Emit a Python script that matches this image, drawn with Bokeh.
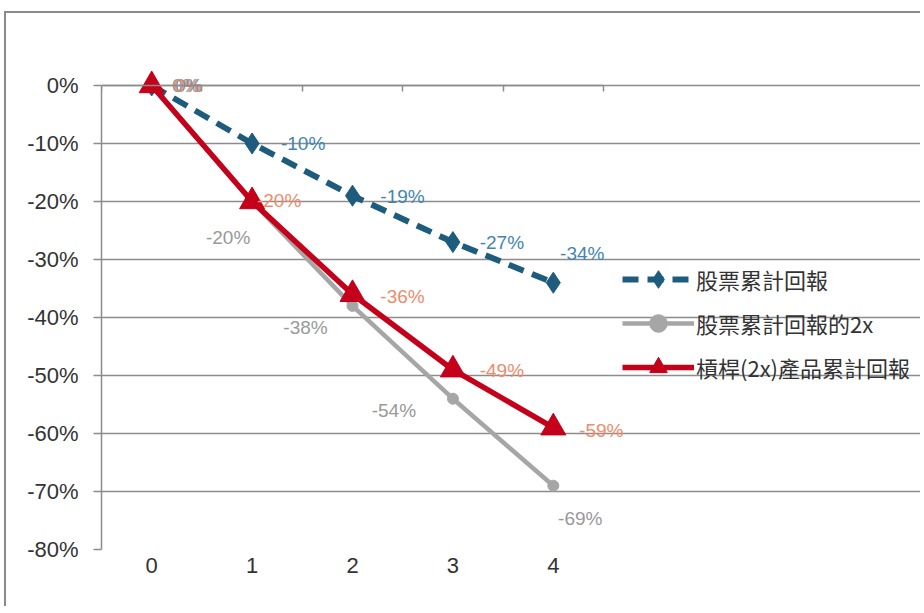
from bokeh.plotting import figure
from bokeh.models import (ColumnDataSource, Range1d, FixedTicker, LinearAxis,
                          Legend, LegendItem, Grid)
from bokeh.core.properties import value
from bokeh.embed import file_html
from bokeh.resources import INLINE

# ---- data ----
periods = [0, 1, 2, 3, 4]
period_labels = ["0", "1", "2", "3", "4"]
stock_cum = [0.0, -0.10, -0.19, -0.27, -0.34]
stock_2x = [0.0, -0.20, -0.38, -0.54, -0.69]
leveraged_cum = [0.0, -0.20, -0.36, -0.49, -0.59]
series_names = ["股票累計回報", "股票累計回報的2x", "槓桿(2x)產品累計回報"]
y_ticks = [0.0, -0.1, -0.2, -0.3, -0.4, -0.5, -0.6, -0.7, -0.8]
y_tick_labels = ["0%", "-10%", "-20%", "-30%", "-40%", "-50%", "-60%", "-70%", "-80%"]

# ---- styles ----
BLUE = "#1d5c7c"
BLUE_LBL = "#3f86b0"
GRAY = "#a6a6a6"
GRAY_LBL = "#999999"
RED = "#c4001a"
RED_LBL = "#ee8c6c"
GRID = "#8c8c8c"
TXT = "#333333"
FONT = "Liberation Sans"
CJK = "Noto Sans CJK TC"

# label offsets (screen px) per point
blue_dx = [37, 51, 50, 49, 29]
blue_dy = [0, 0, 1, 0, -29]
gray_dx = [34, -24, -47, -59, 27]
gray_dy = [0, 36, 22, 12, 33]
red_dx = [36, 27, 50, 49, 48]
red_dy = [0, -1, 2, 1, 3]


def pct(v):
    return f"{round(v * 100)}%"


W = 916
X_END = -0.5 + (W - 95) / 100.4

p = figure(width=W, height=595, output_backend="svg", toolbar_location=None,
           x_range=Range1d(-0.5, X_END), y_range=Range1d(-0.8, 0.0293),
           min_border_left=95, min_border_right=0, min_border_top=55,
           min_border_bottom=59, x_axis_type=None, y_axis_type=None)
p.outline_line_color = None
p.background_fill_color = "white"
p.border_fill_color = "white"
p.styles = {"border-left": "2px solid #8a8a8a", "border-top": "2px solid #8a8a8a",
            "margin-left": "4px", "margin-top": "11px"}

# y axis
yax = LinearAxis(ticker=FixedTicker(ticks=y_ticks), bounds=(-0.8, 0.0))
yax.major_label_overrides = {t: l for t, l in zip(y_ticks, y_tick_labels)}
yax.axis_line_color = GRID
yax.axis_line_width = 1.5
yax.major_tick_line_color = GRID
yax.major_tick_line_width = 1.5
yax.major_tick_out = 8
yax.major_tick_in = 0
yax.minor_tick_line_color = None
yax.major_label_text_font = FONT
yax.major_label_text_font_size = "22px"
yax.major_label_text_color = TXT
yax.major_label_standoff = 15
p.add_layout(yax, "left")

# x axis (labels at bottom)
xax = LinearAxis(ticker=FixedTicker(ticks=periods))
xax.major_label_overrides = {t: l for t, l in zip(periods, period_labels)}
xax.axis_line_color = None
xax.major_tick_line_color = None
xax.minor_tick_line_color = None
xax.major_label_text_font = FONT
xax.major_label_text_font_size = "22px"
xax.major_label_text_color = TXT
xax.major_label_standoff = 2
p.add_layout(xax, "below")

# category tick marks on the 0% line
xtop = LinearAxis(ticker=FixedTicker(ticks=[-0.5, 0.5, 1.5, 2.5, 3.5, 4.5]),
                  fixed_location=0, bounds=(-0.5, 4.5))
xtop.axis_line_color = GRID
xtop.axis_line_width = 1.5
xtop.major_tick_line_color = GRID
xtop.major_tick_line_width = 1.5
xtop.major_tick_in = 6
xtop.major_tick_out = 0
xtop.minor_tick_line_color = None
xtop.major_label_text_font_size = "0px"
xtop.major_label_text_color = None
p.add_layout(xtop, "above")

# grid
g = Grid(dimension=1, ticker=FixedTicker(ticks=y_ticks), bounds=(-0.5, 4.5))
g.grid_line_color = GRID
g.grid_line_width = 1.5
p.add_layout(g)

src = ColumnDataSource(dict(x=periods, s=stock_cum, g=stock_2x, r=leveraged_cum,
                            sl=[pct(v) for v in stock_cum],
                            gl=[pct(v) for v in stock_2x],
                            rl=[pct(v) for v in leveraged_cum],
                            bdx=blue_dx, bdy=blue_dy, gdx=gray_dx, gdy=gray_dy,
                            rdx=red_dx, rdy=red_dy))

# gray series
gl = p.line("x", "g", source=src, line_color=GRAY, line_width=4.5)
gm = p.scatter("x", "g", source=src, marker="circle", size=11, fill_color=GRAY, line_color=GRAY)

# blue series
bl = p.line("x", "s", source=src, line_color=BLUE, line_width=6, line_dash="16 9")
bm = p.scatter("x", "s", source=src, marker="diamond", size=21, fill_color=BLUE, line_color=BLUE)

# red series
rl = p.line("x", "r", source=src, line_color=RED, line_width=5.5)
rm = p.scatter("x", "r", source=src, marker="triangle", size=25, fill_color=RED, line_color=RED)

common = dict(text_font=value(FONT), text_font_size="19px", text_align="center",
              text_baseline="middle")
p.text("x", "g", text="gl", source=src, x_offset="gdx", y_offset="gdy",
       text_color=GRAY_LBL, **common)
p.text("x", "s", text="sl", source=src, x_offset="bdx", y_offset="bdy",
       text_color=BLUE_LBL, **common)
p.text("x", "r", text="rl", source=src, x_offset="rdx", y_offset="rdy",
       text_color=RED_LBL, **common)

legend = Legend(items=[
    LegendItem(label=series_names[0], renderers=[bl, bm]),
    LegendItem(label=series_names[1], renderers=[gl, gm]),
    LegendItem(label=series_names[2], renderers=[rl, rm]),
], location=(521, 160))
legend.glyph_width = 72
legend.glyph_height = 44
legend.label_height = 44
legend.spacing = 0
legend.padding = 0
legend.margin = 0
legend.label_standoff = 2
legend.border_line_color = None
legend.background_fill_alpha = 0
legend.label_text_font = CJK
legend.label_text_font_size = "22px"
legend.label_text_color = TXT
p.add_layout(legend, "center")

open("out.html", "w").write(file_html(p, INLINE))
